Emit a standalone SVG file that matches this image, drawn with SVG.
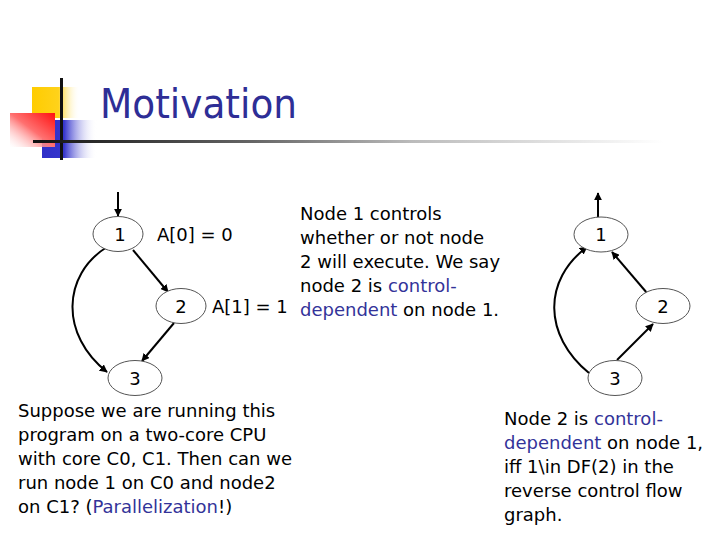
<svg xmlns="http://www.w3.org/2000/svg" width="720" height="540" viewBox="0 0 720 540">
<style>
.t{font-family:"DejaVu Sans",Verdana,sans-serif;font-size:18px;fill:#000}
.b{fill:#333399}
.n{fill:#fff;stroke:#555;stroke-width:1}
.e{fill:none;stroke:#000;stroke-width:2}
.nl{font-family:"DejaVu Sans",Verdana,sans-serif;font-size:18px;text-anchor:middle}
</style>
<defs>
<marker id="ah" viewBox="0 0 10 10" refX="9" refY="5" markerWidth="4" markerHeight="4" orient="auto" markerUnits="strokeWidth">
<path d="M0,0 L10,5 L0,10 z" fill="#000"/>
</marker>
<linearGradient id="gy" x1="0" y1="0" x2="1" y2="0">
<stop offset="0" stop-color="#ffcc00"/><stop offset="0.55" stop-color="#ffd21a"/><stop offset="1" stop-color="#fff" stop-opacity="0"/>
</linearGradient>
<linearGradient id="gb" x1="0" y1="0" x2="1" y2="0">
<stop offset="0" stop-color="#2f2fc8"/><stop offset="0.4" stop-color="#3535cc"/><stop offset="1" stop-color="#fff" stop-opacity="0"/>
</linearGradient>
<linearGradient id="gr" x1="1" y1="0" x2="0" y2="1">
<stop offset="0" stop-color="#ff1010"/><stop offset="0.5" stop-color="#ff7070"/><stop offset="1" stop-color="#fff" stop-opacity="0.3"/>
</linearGradient>
<linearGradient id="gl" x1="0" y1="0" x2="1" y2="0">
<stop offset="0" stop-color="#111"/><stop offset="0.35" stop-color="#666"/><stop offset="0.6" stop-color="#bbb"/><stop offset="1" stop-color="#fff"/>
</linearGradient>
</defs>
<g id="logo">
<rect x="32" y="87" width="48" height="31" fill="url(#gy)"/>
<rect x="42" y="120" width="55" height="38" fill="url(#gb)"/>
<rect x="10" y="113" width="45" height="34" fill="url(#gr)"/>
<rect x="60" y="78" width="3" height="82" fill="#111"/>
<rect x="33" y="140" width="630" height="3" fill="url(#gl)"/>
</g>
<text id="title" x="100" y="118" font-family="DejaVu Sans,Verdana,sans-serif" font-size="40" fill="#2e2e96" textLength="197" lengthAdjust="spacingAndGlyphs">Motivation</text>
<g id="connectors">
<line class="e" x1="118" y1="192" x2="118" y2="216" marker-end="url(#ah)"/>
<line class="e" x1="133" y1="250" x2="168" y2="292" marker-end="url(#ah)"/>
<line class="e" x1="174" y1="323" x2="142" y2="361" marker-end="url(#ah)"/>
<path class="e" d="M107,247 C62,275 60,335 107,372" marker-end="url(#ah)"/>
<line class="e" x1="598" y1="217" x2="598" y2="193" marker-end="url(#ah)"/>
<line class="e" x1="647" y1="293" x2="612" y2="252" marker-end="url(#ah)"/>
<line class="e" x1="617" y1="360" x2="653" y2="324" marker-end="url(#ah)"/>
<path class="e" d="M589,373 C543,335 543,280 587,247" marker-end="url(#ah)"/>
</g>
<g id="L1"><ellipse class="n" cx="118" cy="234" rx="25" ry="17.5"/><text class="nl" x="120" y="241">1</text></g>
<g id="L2"><ellipse class="n" cx="181" cy="306" rx="25" ry="17.5"/><text class="nl" x="181" y="313">2</text></g>
<g id="L3"><ellipse class="n" cx="135" cy="378" rx="27" ry="17.5"/><text class="nl" x="135" y="385">3</text></g>
<g id="R1"><ellipse class="n" cx="601" cy="234.5" rx="27" ry="17.5"/><text class="nl" x="601" y="241">1</text></g>
<g id="R2"><ellipse class="n" cx="663" cy="306" rx="27" ry="17.5"/><text class="nl" x="663" y="313">2</text></g>
<g id="R3"><ellipse class="n" cx="615" cy="378" rx="27" ry="17.5"/><text class="nl" x="615" y="385">3</text></g>
<text class="t" x="157" y="241">A[0] = 0</text>
<text class="t" x="212" y="313">A[1] = 1</text>
<g id="note1" class="t">
<text class="t" x="300" y="220">Node 1 controls</text>
<text class="t" x="300" y="244">whether or not node</text>
<text class="t" x="300" y="268">2 will execute. We say</text>
<text class="t" x="300" y="292">node 2 is <tspan class="b">control-</tspan></text>
<text class="t" x="300" y="316"><tspan class="b">dependent</tspan> on node 1.</text>
</g>
<g id="note2">
<text class="t" x="18" y="417">Suppose we are running this</text>
<text class="t" x="18" y="441">program on a two-core CPU</text>
<text class="t" x="18" y="465">with core C0, C1. Then can we</text>
<text class="t" x="18" y="489">run node 1 on C0 and node2</text>
<text class="t" x="18" y="513">on C1? (<tspan class="b">Parallelization</tspan>!)</text>
</g>
<g id="note3">
<text class="t" x="504" y="425">Node 2 is <tspan class="b">control-</tspan></text>
<text class="t" x="504" y="449"><tspan class="b">dependent</tspan> on node 1,</text>
<text class="t" x="504" y="473">iff 1\in DF(2) in the</text>
<text class="t" x="504" y="497">reverse control flow</text>
<text class="t" x="504" y="521">graph.</text>
</g>
</svg>
